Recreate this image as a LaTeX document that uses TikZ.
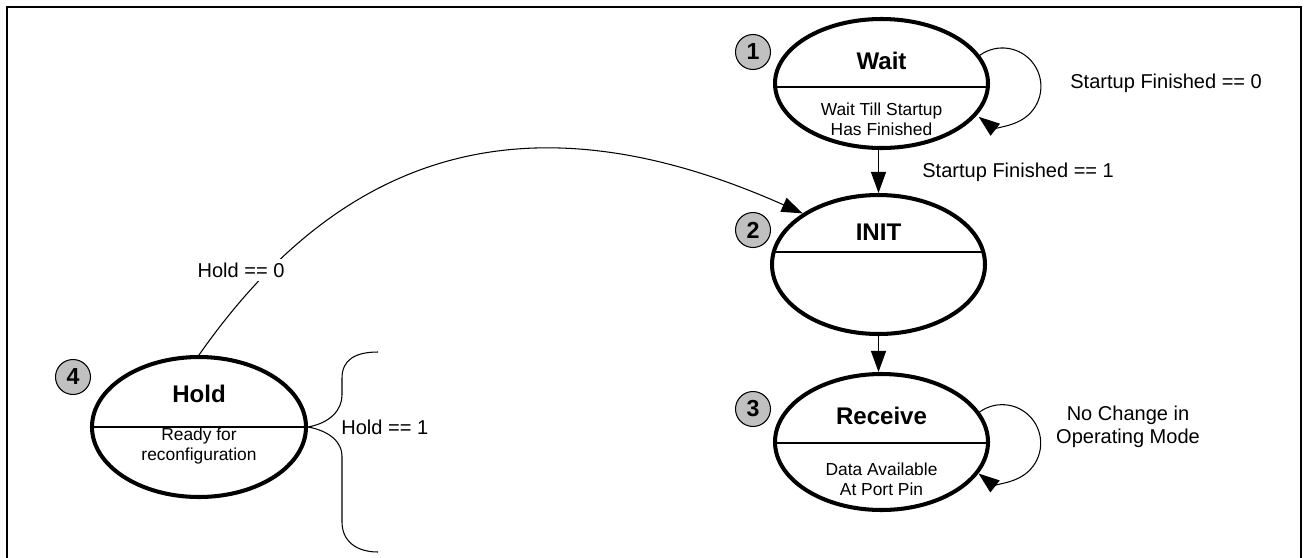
\documentclass[tikz,border=0pt]{standalone}
\usepackage{fontspec}
\setmainfont{Liberation Sans}
\usetikzlibrary{arrows.meta,shapes.geometric,calc}
\definecolor{badgegray}{RGB}{192,192,192}

\begin{document}
\begin{tikzpicture}[scale=1.0, font=\fontsize{11.4}{13}\selectfont,
  >={Triangle[length=4.2mm,width=3mm]},
  stateoval/.style={draw, ellipse, line width=2.3pt, minimum width=4.26cm, inner sep=0pt},
  badge/.style={draw, circle, fill=badgegray, line width=0.6pt, minimum size=0.7cm,
    inner sep=0pt, font=\fontsize{13.2}{15}\selectfont\bfseries},
  title/.style={font=\fontsize{13.7}{16}\selectfont\bfseries},
  sub/.style={font=\fontsize{9.9}{11.4}\selectfont, align=center},
  lbl/.style={inner sep=0pt},
  divider/.style={line width=0.85pt},
  conn/.style={line width=0.6pt}]
  \useasboundingbox (0,0) rectangle (26.1,-11.14);
  % рамка
  \draw[line width=1.13pt] (0.14,-11.3) -- (0.14,-0.14) -- (26.02,-0.14) -- (26.02,-11.3);
  % состояния
  \node[stateoval, minimum height=2.58cm] (wait)    at (17.63,-1.67) {};
  \node[stateoval, minimum height=2.78cm] (init)    at (17.57,-5.29) {};
  \node[stateoval, minimum height=2.72cm] (receive) at (17.63,-8.84) {};
  \node[stateoval, minimum width=4.28cm, minimum height=2.80cm] (hold) at (3.98,-8.54) {};
  \draw[divider] ($(wait.center)+(-2.14,-0.07)$) -- ($(wait.center)+(2.14,-0.07)$);
  \draw[divider] ($(init.center)+(-2.11,0.25)$) -- ($(init.center)+(2.11,0.25)$);
  \draw[divider] ($(receive.center)+(-2.14,-0.02)$) -- ($(receive.center)+(2.14,-0.02)$);
  \draw[divider] ($(hold.center)+(-2.15,0)$) -- ($(hold.center)+(2.15,0)$);
  % надписи в состояниях
  \node[title] (waitT)    at (17.63,-1.22) {Wait};
  \node[sub]   (waitS)    at (17.63,-2.39) {Wait Till Startup\\Has Finished};
  \node[title] (initT)    at (17.57,-4.64) {INIT};
  \node[title] (receiveT) at (17.63,-8.32) {Receive};
  \node[sub]   (receiveS) at (17.63,-9.58) {Data Available\\At Port Pin};
  \node[title] (holdT)    at (3.98,-7.88)  {Hold};
  \node[sub]   (holdS)    at (3.98,-8.92)  {Ready for\\reconfiguration};
  % номера
  \node[badge] (n1) at (15.06,-1.04) {1};
  \node[badge] (n2) at (15.06,-4.60) {2};
  \node[badge] (n3) at (15.06,-8.18) {3};
  \node[badge] (n4) at (1.46,-7.54)  {4};
  % переходы
  \draw[conn,->] (wait.south -| init) -- (init.north);
  \draw[conn,->] (init.south) -- (init.south |- receive.north);
  \draw[conn,->] (wait.16) arc[start angle=126, end angle=-128, radius=0.77];
  \draw[conn,->] (receive.17) arc[start angle=126, end angle=-128, radius=0.77];
  \draw[conn,->] (hold.north) .. controls +(55:5) and +(156:6) .. (init.146);
  % фигурная скобка у Hold
  \draw[conn] (hold.east) .. controls (6.6,-8.46) and (6.84,-8.2) .. (6.84,-7.9)
    -- (6.84,-7.56) .. controls (6.84,-7.2) and (7.1,-7.04) .. (7.56,-7.04);
  \draw[conn] (hold.east) .. controls (6.6,-8.62) and (6.84,-8.85) .. (6.84,-9.12)
    -- (6.84,-10.44) .. controls (6.84,-10.8) and (7.1,-11.04) .. (7.56,-11.04);
  % условия
  \node[lbl, anchor=west] (sf0)   at (21.40,-1.66) {Startup Finished == 0};
  \node[lbl, anchor=west] (sf1)   at (18.44,-3.44) {Startup Finished == 1};
  \node[lbl, align=center, font=\fontsize{11.4}{13}\selectfont] (nochange) at (22.56,-8.53) {No Change in\\Operating Mode};
  \node[lbl, anchor=west] (hold1) at (6.82,-8.55) {Hold == 1};
  \node[fill=white, inner sep=2pt] (hold0) at (4.82,-5.40) {Hold == 0};
\end{tikzpicture}
\end{document}
